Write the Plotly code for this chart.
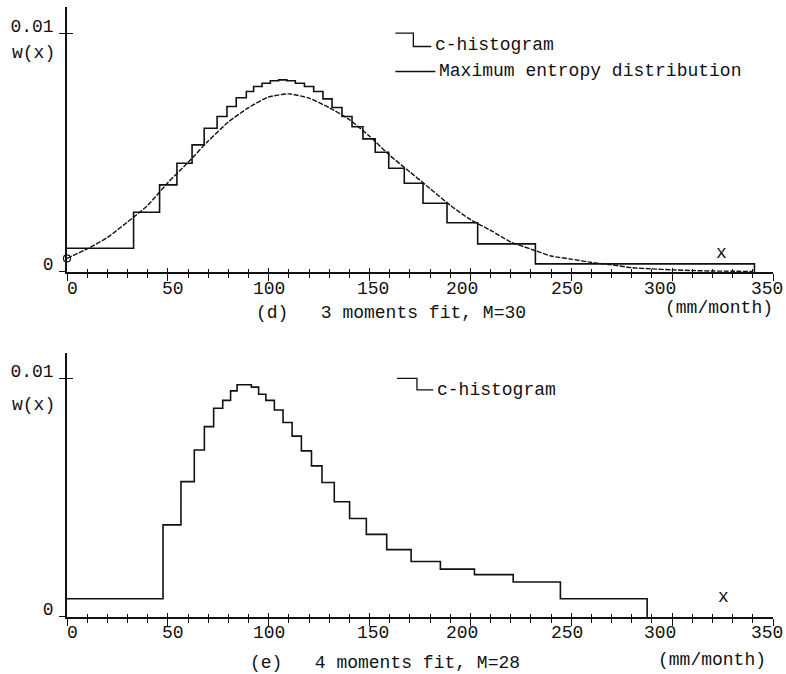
import plotly.graph_objects as go

# ---------------- data ----------------
# (d) 3 moments fit, M=30 : c-histogram bin edges and densities
d_edges = [0, 33, 45.9, 54.5, 62, 68, 74.4, 79.3, 83.9, 88.9, 92.5, 96.7, 100.8,
           104.9, 109, 113.2, 117.7, 122.3, 126.9, 131.4, 136.3, 141.3, 146.7,
           152.8, 159.5, 167.2, 176.5, 188.4, 203.6, 232.2, 340.8]
d_heights = [0.00100, 0.00251, 0.00366, 0.00457, 0.00534, 0.00604, 0.00653,
             0.00695, 0.00732, 0.00758, 0.00779, 0.00793, 0.00803, 0.00807,
             0.00803, 0.00793, 0.00779, 0.00758, 0.00727, 0.00691, 0.00653,
             0.00610, 0.00559, 0.00503, 0.00436, 0.00373, 0.00289, 0.00207,
             0.00118, 0.00034]

# maximum entropy distribution (panel d)
me_x = [0, 10, 20, 30, 40, 50, 60, 70, 80, 90, 100, 110, 120, 130, 140, 150,
        160, 170, 180, 190, 200, 210, 220, 230, 240, 250, 260, 270, 280, 290,
        300, 310, 320, 330, 340]
me_w = [0.00057, 0.00097, 0.00145, 0.0021, 0.0028, 0.00375, 0.0046, 0.0055,
        0.0063, 0.0069, 0.00735, 0.00748, 0.0073, 0.0069, 0.0064, 0.0057,
        0.0049, 0.0042, 0.0035, 0.0028, 0.0022, 0.00175, 0.00126, 0.00096,
        0.00067, 0.00054, 0.0004, 0.0003, 0.00018, 0.00013, 0.00009, 0.00006,
        0.00004, 0.00003, 0.00002]

# (e) 4 moments fit, M=28 : c-histogram
e_edges = [0, 47.6, 56.5, 63.1, 68.1, 72.7, 77.2, 81.1, 84.3, 87.9, 91.4, 95.0,
           98.6, 102.8, 107.1, 111.6, 116.2, 121.2, 126.4, 132.5, 140.1, 148.4,
           158.5, 170.6, 185.1, 202.0, 221.2, 244.6, 287.6]
e_heights = [0.00077, 0.00387, 0.00569, 0.00702, 0.0080, 0.00877, 0.0091,
             0.0095, 0.00976, 0.00976, 0.00966, 0.00936, 0.0091, 0.0087,
             0.00817, 0.0076, 0.00698, 0.00635, 0.00565, 0.00484, 0.00414,
             0.00347, 0.00283, 0.00233, 0.00201, 0.00178, 0.00147, 0.00077]

x_tickvals = [0, 50, 100, 150, 200, 250, 300, 350]
x_ticktext = ["0", "50", "100", "150", "200", "250", "300", "350"]
x_minor = [v for v in range(10, 350, 10) if v % 50 != 0]
y_tickvals = [0, 0.01]
y_ticktext = ["0", "0.01"]

# ---------------- styling ----------------
FONT = "Liberation Mono"
FS = 18
INK = "#111111"
NB = "\u00a0"
# typewriter-style nudges of the x tick labels (in x units, styling only)
x_label_nudge = [2.6, 2.7, 0.0, 1.8, -4.1, -2.1, -5.8, -2.9]

fig = go.Figure()

# top panel
fig.add_trace(go.Scatter(x=d_edges, y=d_heights + [0], mode="lines",
                         line=dict(shape="hv", color=INK, width=1.6),
                         xaxis="x", yaxis="y", showlegend=False, cliponaxis=False))
fig.add_trace(go.Scatter(x=me_x, y=me_w, mode="lines",
                         line=dict(shape="spline", smoothing=0.6, color=INK, width=1.4,
                                   dash="5px,1.5px"),
                         xaxis="x", yaxis="y", showlegend=False))
fig.add_trace(go.Scatter(x=me_x[:1], y=me_w[:1], mode="markers",
                         marker=dict(symbol="circle-open", size=7, color=INK,
                                     line=dict(width=1.2, color=INK)),
                         xaxis="x", yaxis="y", showlegend=False, cliponaxis=False))
# bottom panel
fig.add_trace(go.Scatter(x=e_edges, y=e_heights + [0], mode="lines",
                         line=dict(shape="hv", color=INK, width=1.6),
                         xaxis="x2", yaxis="y2", showlegend=False, cliponaxis=False))
# invisible traces to carry the overlay axes (inward tick halves)
fig.add_trace(go.Scatter(x=[0], y=[0], mode="markers", marker=dict(opacity=0),
                         xaxis="x3", yaxis="y3", showlegend=False, hoverinfo="skip"))
fig.add_trace(go.Scatter(x=[0], y=[0], mode="markers", marker=dict(opacity=0),
                         xaxis="x4", yaxis="y4", showlegend=False, hoverinfo="skip"))

TOP_DOM = [0.5656, 1.0]
BOT_DOM = [0.0, 0.4323]
TOP_YR = [0, 0.01113]
BOT_YR = [0, 0.01108]
XR = [0, 350]

def xaxis_main(anchor):
    return dict(domain=[0, 1], anchor=anchor, range=XR, showgrid=False, zeroline=False,
                automargin=False,
                showline=True, linecolor=INK, linewidth=1.5,
                tickmode="array", tickvals=x_tickvals, showticklabels=False,
                ticks="outside", ticklen=7, tickwidth=1.3, tickcolor=INK,
                minor=dict(tickmode="array", tickvals=x_minor, ticks="outside",
                           ticklen=4, tickwidth=1.1, tickcolor=INK, showgrid=False))

def xaxis_over(over, anchor):
    return dict(overlaying=over, anchor=anchor, range=XR, showgrid=False, zeroline=False,
                automargin=False,
                showline=False, tickmode="array", tickvals=x_tickvals,
                showticklabels=False, ticks="inside", ticklen=4, tickwidth=1.3,
                tickcolor=INK,
                minor=dict(tickmode="array", tickvals=x_minor, ticks="inside",
                           ticklen=3, tickwidth=1.1, tickcolor=INK, showgrid=False))

def yaxis_main(dom, rng, anchor):
    return dict(domain=dom, anchor=anchor, range=rng, showgrid=False, zeroline=False,
                automargin=False, ticklabeloverflow="allow",
                showline=True, linecolor=INK, linewidth=1.5,
                tickmode="array", tickvals=y_tickvals, ticktext=y_ticktext,
                ticks="outside", ticklen=6, tickwidth=1.3, tickcolor=INK,
                ticklabelshift=-8, ticklabelstandoff=2,
                tickfont=dict(family=FONT, size=FS, color=INK))

def yaxis_over(over, rng, anchor):
    return dict(overlaying=over, anchor=anchor, range=rng, showgrid=False,
                automargin=False,
                zeroline=False, showline=False, tickmode="array", tickvals=[0.01],
                showticklabels=False, ticks="inside", ticklen=6, tickwidth=1.3,
                tickcolor=INK)

fig.update_layout(
    width=786, height=674,
    margin=dict(l=67, r=13, t=7, b=57, autoexpand=False),
    paper_bgcolor="white", plot_bgcolor="white",
    font=dict(family=FONT, size=FS, color=INK),
    showlegend=False,
    xaxis=xaxis_main("y"),
    yaxis=yaxis_main(TOP_DOM, TOP_YR, "x"),
    xaxis2=xaxis_main("y2"),
    yaxis2=yaxis_main(BOT_DOM, BOT_YR, "x2"),
    xaxis3=xaxis_over("x", "y"),
    yaxis3=yaxis_over("y", TOP_YR, "x"),
    xaxis4=xaxis_over("x2", "y2"),
    yaxis4=yaxis_over("y2", BOT_YR, "x2"),
)

def ann(text, x, y, xref, yref, xanchor="center", yanchor="middle"):
    fig.add_annotation(text=text, x=x, y=y, xref=xref, yref=yref, showarrow=False,
                       xanchor=xanchor, yanchor=yanchor,
                       font=dict(family=FONT, size=FS, color=INK))

# x tick labels (typewriter placement)
for v, t, n in zip(x_tickvals, x_ticktext, x_label_nudge):
    ann(t, v + n, 0.537, "x", "paper")
    ann(t, v + n, -0.027, "x2", "paper")

# axis labels, captions
ann("w(x)", -0.014, 0.0092, "paper", "y", xanchor="right")
ann("w(x)", -0.014, 0.00891, "paper", "y2", xanchor="right")
ann("x", 324.7, 0.0008, "x", "y")
ann("x", 325.5, 0.00086, "x2", "y2")
ann("(mm/month)", 323.2, 0.5066, "x", "paper")
ann("(mm/month)", 319.8, -0.0705, "x2", "paper")
ann("(d)" + NB * 3 + "3 moments fit, M=30", 160.5, 0.4984, "x", "paper")
ann("(e)" + NB * 3 + "4 moments fit, M=28", 157.8, -0.0759, "x2", "paper")

# hand-drawn style legends
leg_line = dict(color=INK, width=1.3)
fig.add_shape(type="path", xref="x", yref="y",
              path="M 162.8 0.01003 L 171.7 0.01003 L 171.7 0.00947 L 180.6 0.00947",
              line=leg_line)
ann("c-histogram", 181.6, 0.00954, "x", "y", xanchor="left")
fig.add_shape(type="line", xref="x", yref="y", x0=162.8, x1=182.6, y0=0.00842,
              y1=0.00842, line=leg_line)
ann("Maximum entropy distribution", 183.6, 0.00845, "x", "y", xanchor="left")

fig.add_shape(type="path", xref="x2", yref="y2",
              path="M 163.6 0.01003 L 173.5 0.01003 L 173.5 0.00954 L 181.6 0.00954",
              line=leg_line)
ann("c-histogram", 182.6, 0.00954, "x2", "y2", xanchor="left")

fig.write_html("out.html",
               config={"displayModeBar": False},
               post_script="document.body.style.margin='0';"
                           "document.body.style.overflow='hidden';")
